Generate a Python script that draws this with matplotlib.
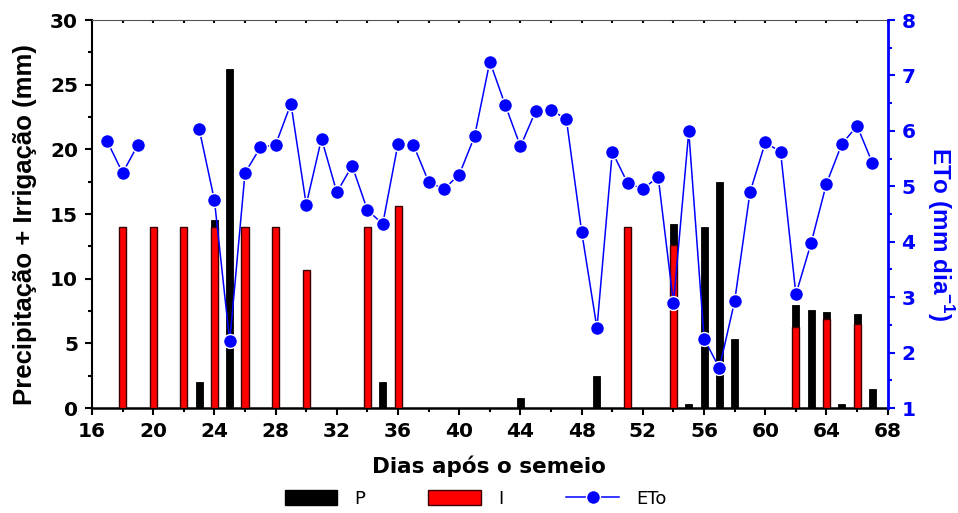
import numpy as np
import matplotlib
matplotlib.use("Agg")
import matplotlib.pyplot as plt
from matplotlib.patches import Patch
from matplotlib.lines import Line2D
from matplotlib.ticker import MultipleLocator

plt.rcParams['font.family'] = ['DejaVu Sans']
plt.rcParams['mathtext.fontset'] = 'custom'
plt.rcParams['mathtext.rm'] = 'Liberation Sans'
plt.rcParams['mathtext.bf'] = 'Liberation Sans:bold'

# Precipitation (P), mm
p_days = [23, 24, 25, 35, 44, 49, 54, 55, 56, 57, 58, 62, 63, 64, 65, 66, 67]
p_vals = [2.0, 14.5, 26.2, 2.0, 0.8, 2.5, 14.2, 0.3, 14.0, 17.5, 5.3, 8.0, 7.6, 7.4, 0.3, 7.3, 1.5]

# Irrigation (I), mm
i_days = [18, 20, 22, 24, 26, 28, 30, 34, 36, 51, 54, 62, 64, 66]
i_vals = [14.0, 14.0, 14.0, 14.0, 14.0, 14.0, 10.7, 14.0, 15.6, 14.0, 12.6, 6.25, 6.9, 6.5]

# Reference evapotranspiration (ETo), mm/day
eto_days = [17, 18, 19, 20, 21, 22] + list(range(23, 68))
eto_vals = [5.81, 5.24, 5.75, np.nan, np.nan, np.nan,
            6.04, 4.75, 2.20, 5.24, 5.70, 5.75, 6.49, 4.67, 5.86, 4.89, 5.37, 4.57, 4.32,
            5.77, 5.75, 5.08, 4.95, 5.21, 5.90, 7.25, 6.47, 5.72, 6.36, 6.38, 6.21, 4.18,
            2.44, 5.62, 5.06, 4.95, 5.17, 2.89, 5.99, 2.25, 1.72, 2.93, 4.89, 5.79, 5.62,
            3.05, 3.98, 5.05, 5.76, 6.09, 5.42]

x_ticks = list(range(16, 69, 4))

W, H = 958, 513
fig = plt.figure(figsize=(W / 100, H / 100), dpi=100)
ax = fig.add_axes([92 / W, 1 - 408 / H, (887.7 - 92) / W, (408 - 20) / H])

bw = 0.46
ax.bar(p_days, p_vals, width=bw, color='black', edgecolor='black', linewidth=0.6, zorder=2)
ax.bar(i_days, i_vals, width=bw, color='red', edgecolor='#3a0000', linewidth=1.0, zorder=3)

tick_font = dict(family='DejaVu Sans', weight='bold', size=14.5)
ax.set_xlim(16, 68)
ax.set_ylim(0, 30)
ax.set_xticks(x_ticks)
ax.xaxis.set_minor_locator(MultipleLocator(2))
ax.yaxis.set_major_locator(MultipleLocator(5))
ax.yaxis.set_minor_locator(MultipleLocator(2.5))
ax.tick_params(axis='both', which='major', direction='out', length=5, width=1.5, pad=5)
ax.tick_params(axis='both', which='minor', direction='out', length=3, width=1.5)
ax.tick_params(axis='x', which='both', top=True)
for lab in ax.get_xticklabels() + ax.get_yticklabels():
    lab.set_fontproperties(tick_font)
for t in ax.xaxis.get_major_ticks() + ax.xaxis.get_minor_ticks():
    t.tick2line.set_markersize(2.5)
    t.tick2line.set_color('#555555')
    t.tick2line.set_marker(3)
ax.spines['left'].set_linewidth(1.5)
ax.spines['bottom'].set_linewidth(1.8)
ax.spines['top'].set_linewidth(0.8)
ax.spines['top'].set_color('#555555')

fig.text(489 / W, 1 - 473 / H, 'Dias após o semeio', ha='center', va='baseline',
         family='DejaVu Sans', weight='bold', size=15.5)
fig.text(25 / W, 1 - 225 / H, 'Precipitação + Irrigação (mm)', ha='center', va='center',
         rotation=90, family='Liberation Sans', weight='bold', size=18.5)

ax2 = ax.twinx()
ax2.plot(eto_days, eto_vals, color='blue', linewidth=1.1, marker='o', markersize=10,
         markerfacecolor='blue', markeredgecolor='white', markeredgewidth=1.0, zorder=5)
ax2.set_ylim(1, 8)
ax2.yaxis.set_major_locator(MultipleLocator(1))
ax2.yaxis.set_minor_locator(MultipleLocator(0.5))
ax2.tick_params(axis='y', which='major', direction='out', length=5, width=1.5, pad=5,
                colors='blue')
ax2.tick_params(axis='y', which='minor', direction='out', length=3, width=1.5, colors='blue')
for lab in ax2.get_yticklabels():
    lab.set_fontproperties(tick_font)
ax2.spines['right'].set_color('blue')
ax2.spines['right'].set_linewidth(2.0)
ax2.spines['top'].set_visible(False)
ax2.spines['left'].set_visible(False)
ax2.spines['bottom'].set_visible(False)
fig.text(940 / W, 1 - 234 / H, 'ETo (mm dia$^{\\mathbf{-1}}$)', ha='center', va='center',
         rotation=-90, family='Liberation Sans', weight='bold', size=17.5, color='blue')

handles = [Patch(facecolor='black', edgecolor='black'),
           Patch(facecolor='red', edgecolor='#3a0000'),
           Line2D([0], [0], color='blue', linewidth=1.1, marker='o', markersize=10,
                  markerfacecolor='blue', markeredgecolor='white')]
leg = fig.legend(handles, ['P', 'I', 'ETo'], loc='center', bbox_to_anchor=(475.5 / W, 1 - 499 / H),
                 ncol=3, frameon=False, prop=dict(family='DejaVu Sans', size=13),
                 handlelength=2.9, handleheight=0.9, handletextpad=0.95, columnspacing=3.5,
                 borderpad=0, borderaxespad=0)

fig.savefig('out.png', dpi=100)
